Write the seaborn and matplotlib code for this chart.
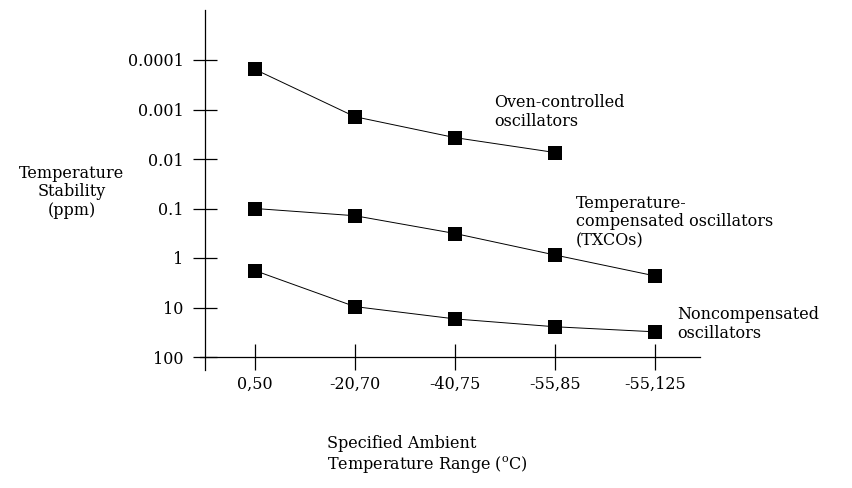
import numpy as np
import pandas as pd
import matplotlib
matplotlib.use("Agg")
import matplotlib.pyplot as plt
import seaborn as sns

# ---- data ----
ranges = ["0,50", "-20,70", "-40,75", "-55,85", "-55,125"]
oven = [0.000155, 0.0014, 0.0037, 0.0074]
tcxo = [0.10, 0.14, 0.32, 0.87, 2.3]
noncomp = [1.8, 9.6, 17, 24.5, 31]
ytick_vals = [0.0001, 0.001, 0.01, 0.1, 1, 10, 100]
ytick_labels = ["0.0001", "0.001", "0.01", "0.1", "1", "10", "100"]

rows = []
for name, vals in [("oven", oven), ("tcxo", tcxo), ("noncomp", noncomp)]:
    for r, v in zip(ranges, vals):
        rows.append({"range": r, "stab": v, "series": name})
df = pd.DataFrame(rows)

sns.set_theme(style="white")
plt.rcParams["font.family"] = ["DejaVu Serif"]
plt.rcParams["mathtext.fontset"] = "dejavuserif"
plt.rcParams["text.color"] = "black"
plt.rcParams["xtick.color"] = "black"
plt.rcParams["ytick.color"] = "black"
plt.rcParams["axes.labelcolor"] = "black"

fig = plt.figure(figsize=(8.53, 4.88), dpi=100)
ax = fig.add_axes([200 / 853, 1 - 370 / 488, 500 / 853, 360 / 488])

sns.lineplot(data=df, x="range", y="stab", hue="series",
             palette={"oven": "black", "tcxo": "black", "noncomp": "black"},
             marker="s", markersize=10, markeredgewidth=0, linewidth=0.7,
             sort=False, legend=False, ax=ax)

ax.set_yscale("log")
ax.set_ylim(10 ** (2 + 13 / 49.5), 10 ** (-4 - 50 / 49.5))
ax.set_xlim(-0.55, 4.45)

ax.set_yticks(ytick_vals)
ax.set_yticklabels(ytick_labels)
ax.yaxis.set_minor_locator(matplotlib.ticker.NullLocator())
ax.set_xticks(range(len(ranges)))
ax.set_xticklabels(ranges)

for s in ["top", "right"]:
    ax.spines[s].set_visible(False)
ax.spines["left"].set_position(("data", -0.5))
ax.spines["bottom"].set_position(("data", 100))
for s in ["left", "bottom"]:
    ax.spines[s].set_color("black")
    ax.spines[s].set_linewidth(0.9)

ax.tick_params(axis="y", direction="inout", length=17, width=0.9,
               color="black", labelcolor="black", labelsize=11.5, pad=7, left=True)
ax.tick_params(axis="x", direction="inout", length=19, width=0.9,
               color="black", labelcolor="black", labelsize=11.5, pad=4, bottom=True)
ax.set_xlabel("")
ax.set_ylabel("")
ax.grid(False)

fs = 11.5
fig.text(72 / 853, 1 - 192 / 488, "Temperature\nStability\n(ppm)",
         ha="center", va="center", fontsize=fs, linespacing=1.15, color="black")
fig.text(327 / 853, 1 - 455 / 488,
         "Specified Ambient\nTemperature Range ($^{\\mathrm{o}}$C)",
         ha="left", va="center", fontsize=fs, linespacing=1.15, color="black")
fig.text(494 / 853, 1 - 112 / 488, "Oven-controlled\noscillators",
         ha="left", va="center", fontsize=fs, linespacing=1.15, color="black")
fig.text(576 / 853, 1 - 222 / 488,
         "Temperature-\ncompensated oscillators\n(TXCOs)",
         ha="left", va="center", fontsize=fs, linespacing=1.15, color="black")
fig.text(677 / 853, 1 - 324 / 488, "Noncompensated\noscillators",
         ha="left", va="center", fontsize=fs, linespacing=1.15, color="black")

fig.savefig("out.png", dpi=100, facecolor="white")
